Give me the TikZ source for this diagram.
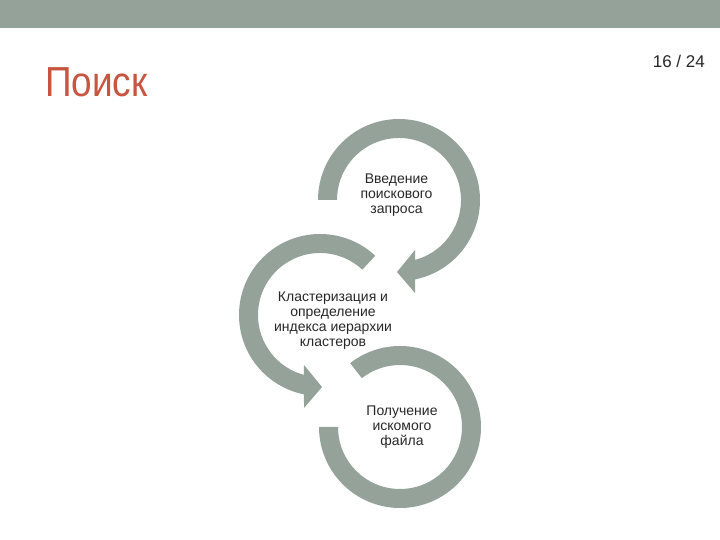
\documentclass[tikz,border=0pt]{standalone}
\usepackage{fontspec}
\setmainfont{Liberation Sans}
\newfontfamily\titlefont[FakeStretch=0.88]{Liberation Sans}
\definecolor{bandgray}{RGB}{149,162,153}
\definecolor{titlered}{RGB}{201,84,63}
\tikzset{
  band/.style={fill=bandgray, draw=none},
  steptext/.style={align=center, font=\fontsize{14}{15}\selectfont, text=black!85, inner sep=0pt}
}
\begin{document}
\begin{tikzpicture}[x=1pt,y=1pt]
\useasboundingbox (0,0) rectangle (720,540);
\fill[bandgray] (0,512) rectangle (720,540);
\node[anchor=base west, text=titlered, inner sep=0pt, font=\titlefont\fontsize{42}{50}\selectfont] (title) at (45,443) {Поиск};
\node[anchor=base east, inner sep=0pt, text=black!85, font=\fontsize{17}{20}\selectfont] (page) at (705,472) {16 / 24};
% arc 1
\begin{scope}[shift={(399,340)}]
\fill[band] (180:81) arc[start angle=180, end angle=-78.6, radius=81]
  -- (16,-93) -- (-2,-72) -- (16,-50) -- (-75:62)
  arc[start angle=-75, end angle=180, radius=62] -- cycle;
\end{scope}
% arc 2
\begin{scope}[shift={(320,225)}]
\fill[band] (47:81) arc[start angle=47, end angle=258.6, radius=81]
  -- (-16,-93) -- (2,-72) -- (-16,-50) -- (255:62)
  arc[start angle=255, end angle=47, radius=62] -- cycle;
\end{scope}
% arc 3
\begin{scope}[shift={(400,113)}]
\fill[band] (128:81) arc[start angle=128, end angle=-180, radius=81]
  -- (180:62) arc[start angle=-180, end angle=128, radius=62] -- cycle;
\end{scope}
\node[steptext] (s1) at (396.5,345) {Введение\\поискового\\запроса};
\node[steptext] (s2) at (333,219.5) {Кластеризация и\\определение\\индекса иерархии\\кластеров};
\node[steptext] (s3) at (402,113) {Получение\\искомого\\файла};
\end{tikzpicture}
\end{document}
